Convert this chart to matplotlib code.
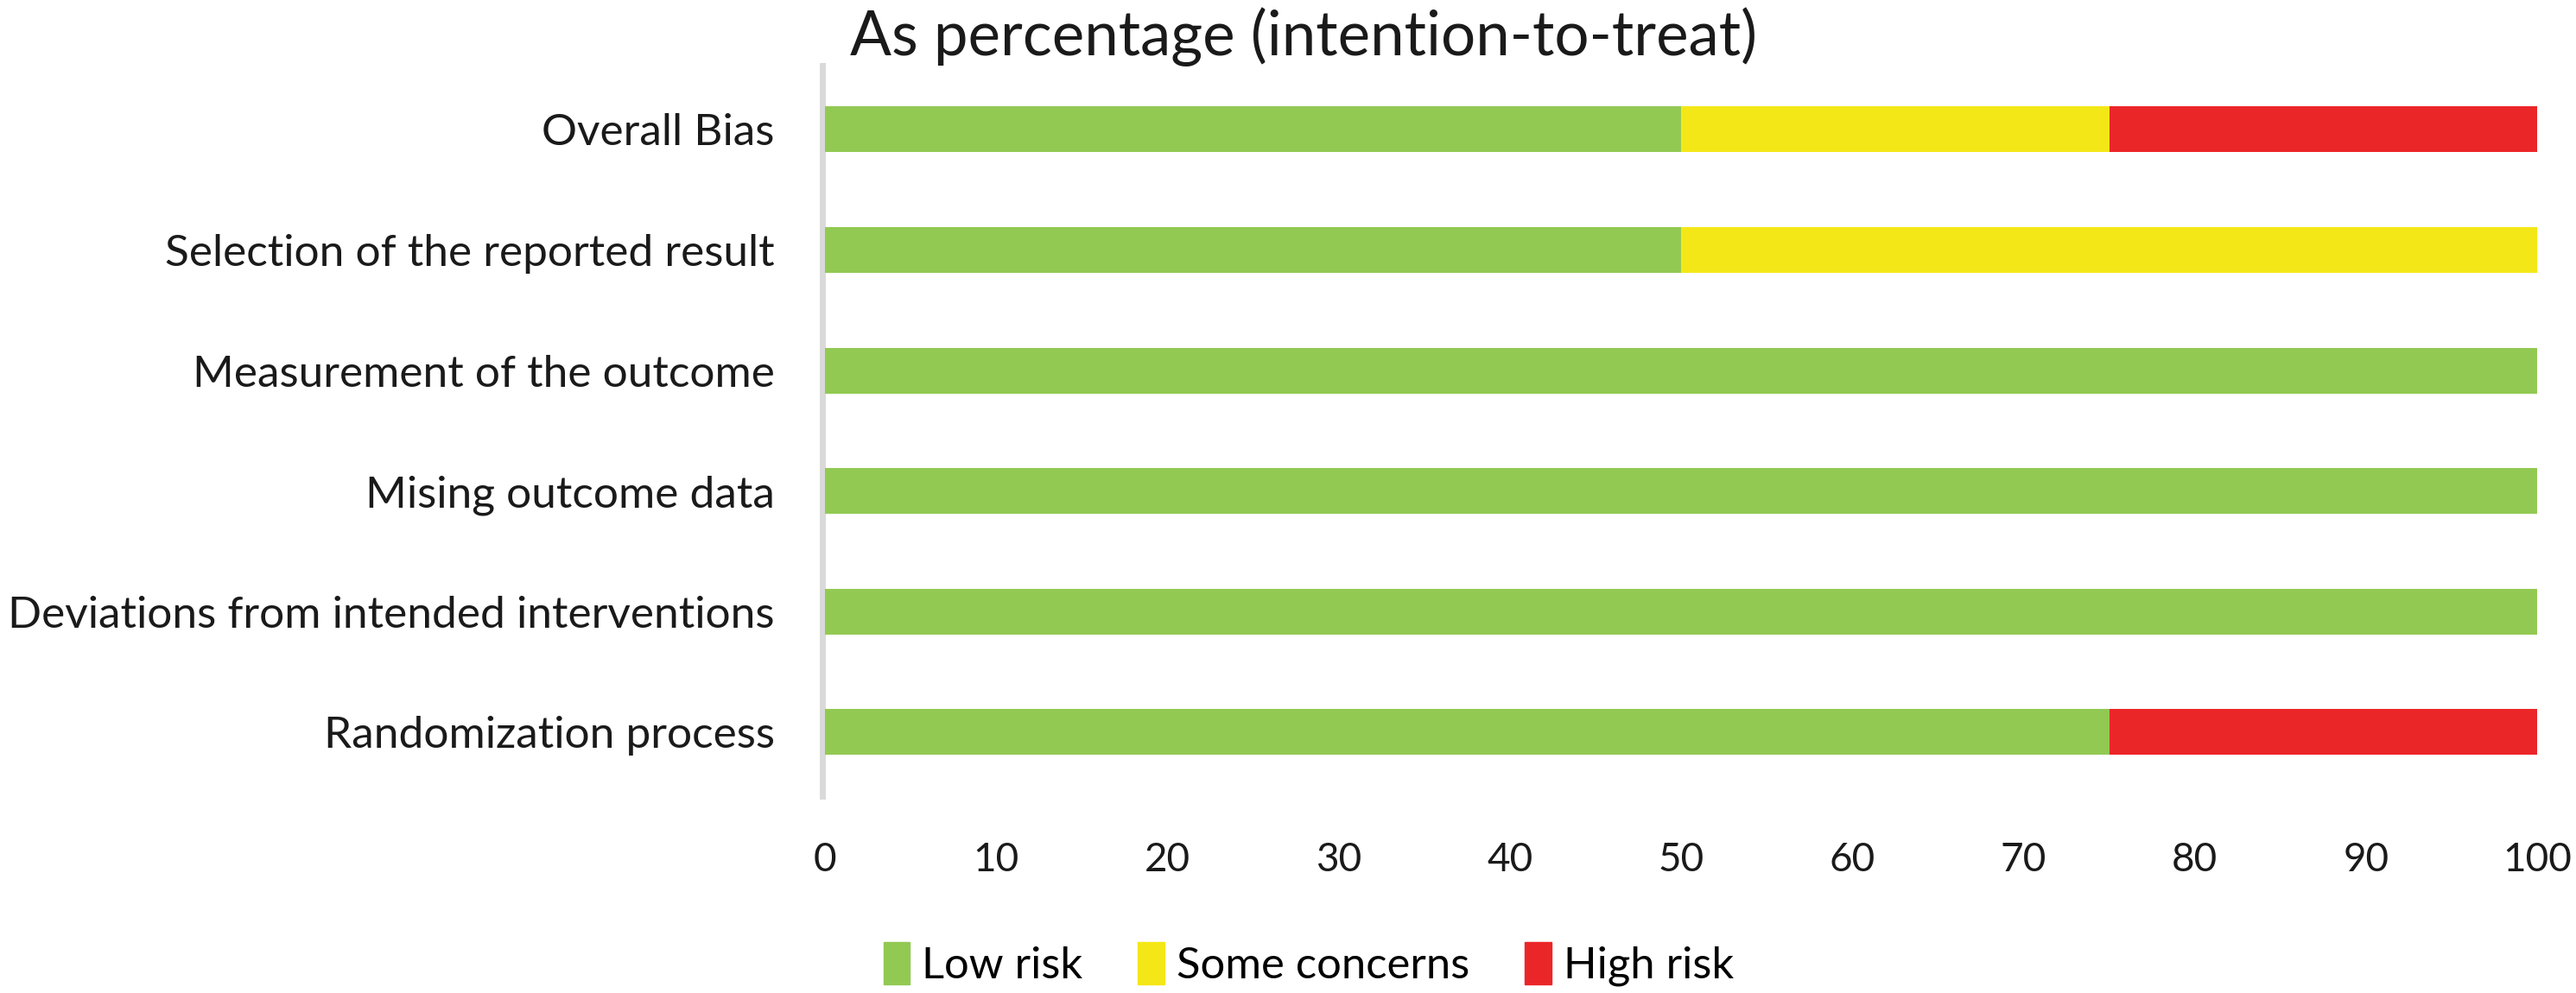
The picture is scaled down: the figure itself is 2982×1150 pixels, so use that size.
import matplotlib
matplotlib.use("Agg")
import matplotlib.pyplot as plt
from matplotlib.patches import Patch
import numpy as np

plt.rcParams['font.family'] = ['Lato', 'DejaVu Sans']

# domains, bottom to top as drawn
domains = ['Randomization process',
           'Deviations from intended interventions',
           'Mising outcome data',
           'Measurement of the outcome',
           'Selection of the reported result',
           'Overall Bias']
low = [75, 100, 100, 100, 50, 50]
some = [0, 0, 0, 0, 50, 25]
high = [25, 0, 0, 0, 0, 25]

series = ['Low risk', 'Some concerns', 'High risk']
colors = ['#92C953', '#F4E717', '#EB2629']
xticks = [0, 10, 20, 30, 40, 50, 60, 70, 80, 90, 100]

fig = plt.figure(figsize=(29.82, 11.5), dpi=100)
ax = fig.add_axes([0.3203, 0.1983, 0.6646, 0.7357])

y = np.arange(len(domains))
left = np.zeros(len(domains))
for vals, c in zip([low, some, high], colors):
    ax.barh(y, vals, left=left, height=0.38, color=c, zorder=3)
    left = left + np.array(vals)

ax.set_xlim(0, 100)
ax.set_ylim(-0.53, len(domains) - 0.47)
ax.tick_params(length=0, labelcolor='#1a1a1a')
ax.tick_params(axis='y', pad=40, labelsize=37)
ax.tick_params(axis='x', pad=38, labelsize=33)
ax.set_yticks(y)
ax.set_yticklabels(domains)
ax.set_xticks(xticks)
ax.set_xticklabels([str(t) for t in xticks])

for s in ['top', 'right', 'bottom']:
    ax.spines[s].set_visible(False)
ax.spines['left'].set_color('#d9d9d9')
ax.spines['left'].set_linewidth(5)
ax.spines['left'].set_position(('outward', 2))

fig.text(0.330, 0.963, 'As percentage (intention-to-treat)', fontsize=51,
         color='#1a1a1a', ha='left', va='center')

handles = [Patch(color=c, label=l) for c, l in zip(colors, series)]
fig.legend(handles=handles, loc='center', bbox_to_anchor=(0.508, 0.029),
           ncol=3, frameon=False, fontsize=36.5, handlelength=0.6,
           handleheight=1.1, handletextpad=0.28, columnspacing=1.26)

fig.savefig('out.png', dpi=100)
